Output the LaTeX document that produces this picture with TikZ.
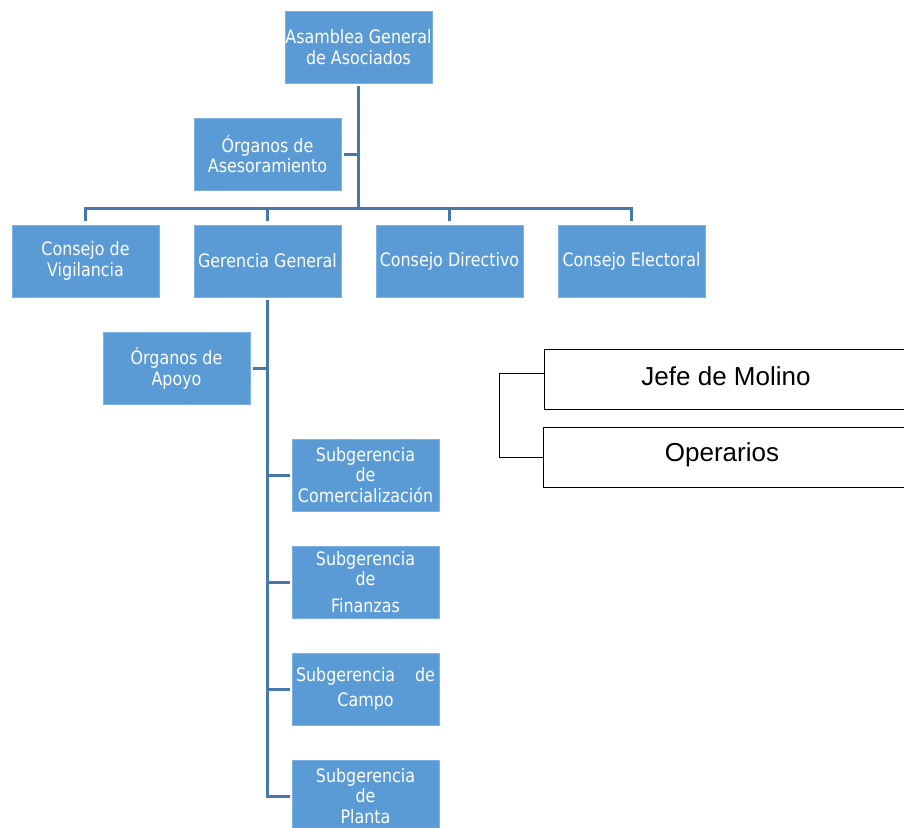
\documentclass[tikz,border=0pt]{standalone}
\usepackage{fontspec}
\newfontfamily\boxfont[FakeStretch=0.86]{DejaVu Sans}
\newfontfamily\molfont{Liberation Sans}
\definecolor{boxblue}{RGB}{91,155,213}
\definecolor{boxedge}{RGB}{125,178,226}
\definecolor{connblue}{RGB}{70,120,172}
\begin{document}
\begin{tikzpicture}[x=1pt,y=-1pt,
  orgbox/.style={fill=boxblue, draw=boxedge, line width=0.8pt, minimum width=147pt, minimum height=72pt, inner sep=0pt, align=center, text=white, font=\boxfont\fontsize{18.5}{20.7}\selectfont},
  conn/.style={draw=connblue, line width=3pt, line cap=rect},
  molbox/.style={draw=black, line width=1pt, minimum width=400pt, minimum height=60pt, inner sep=0pt},
  moltext/.style={font=\molfont\fontsize{26}{30}\selectfont, inner sep=0pt, anchor=base},
  molline/.style={draw=black, line width=1pt}]
\clip (0,0) rectangle (904,827);
\fill[white] (0,0) rectangle (904,827);
\node[orgbox] (asam) at (358.5,47) {Asamblea General\\de Asociados};
\node[orgbox] (ase) at (267.5,154) {Órganos de\\Asesoramiento};
\node[orgbox] (vig) at (85.5,261) {Consejo de\\Vigilancia};
\node[orgbox] (ger) at (267.5,261) {Gerencia General};
\node[orgbox] (dir) at (449.5,261) {Consejo Directivo};
\node[orgbox] (ele) at (631.5,261) {Consejo Electoral};
\node[orgbox] (apo) at (176.5,368) {Órganos de\\Apoyo};
\node[orgbox] (com) at (365.5,475) {Subgerencia\\de\\Comercialización};
\node[orgbox] (fin) at (365.5,582) {Subgerencia\\de\\[6pt]Finanzas};
\node[orgbox] (cam) at (365.5,689) {\makebox[139pt]{Subgerencia\hfill de}\\[5pt]Campo};
\node[orgbox] (pla) at (365.5,796) {Subgerencia\\de\\Planta};
\coordinate (bus) at (0,208);
\draw[conn] ([yshift=-4pt]asam.south) -- (asam.south |- bus);
\draw[conn] ([xshift=4pt]ase.east) -- (ase.east -| asam.south);
\draw[conn] (vig.north |- bus) -- (ele.north |- bus);
\foreach \n in {vig,ger,dir,ele}{\draw[conn] (\n.north |- bus) -- ([yshift=5pt]\n.north);}
\draw[conn] ([yshift=-4pt]ger.south) -- (ger.south |- pla.west) -- ([xshift=-3pt]pla.west);
\draw[conn] ([xshift=4pt]apo.east) -- (apo.east -| ger.south);
\foreach \n in {com,fin,cam}{\draw[conn] (ger.south |- \n.west) -- ([xshift=-3pt]\n.west);}
\coordinate (molx) at (499,0);
\node[molbox] (jefe) at (744,379) {};
\node[molbox] (ope) at (743,457) {};
\node[moltext] (jefet) at (726,385) {Jefe de Molino};
\node[moltext] (opet) at (722,461.7) {Operarios};
\coordinate (jc) at ([yshift=6pt]jefe.west);
\draw[molline] (jc) -- (jc -| molx) |- (ope.west);
\end{tikzpicture}
\end{document}
